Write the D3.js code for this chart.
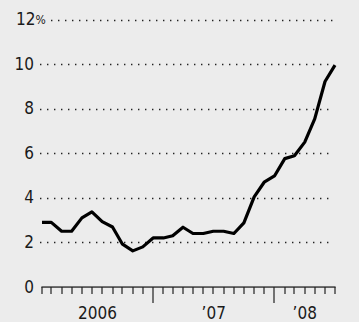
<!DOCTYPE html>
<html>
<head>
<meta charset="utf-8">
<script src="https://cdn.jsdelivr.net/npm/d3@7"></script>
<style>
  html, body { margin: 0; padding: 0; background: #ececec; }
  svg { display: block; }
  text { font-family: "Liberation Sans Narrow", "DejaVu Sans Condensed", "Liberation Sans", sans-serif; fill: #1a1a1a; }
</style>
</head>
<body>
<script>
// monthly readings, Feb 2006 - Jul 2008
var months = ["2006-02","2006-03","2006-04","2006-05","2006-06","2006-07","2006-08","2006-09","2006-10","2006-11","2006-12",
  "2007-01","2007-02","2007-03","2007-04","2007-05","2007-06","2007-07","2007-08","2007-09","2007-10","2007-11","2007-12",
  "2008-01","2008-02","2008-03","2008-04","2008-05","2008-06","2008-07"];
var values = [2.9, 2.9, 2.5, 2.5, 3.1, 3.37, 2.93, 2.69, 1.92, 1.62, 1.8,
  2.2, 2.2, 2.3, 2.68, 2.4, 2.4, 2.5, 2.5, 2.4, 2.88, 4.04, 4.7,
  4.98, 5.76, 5.89, 6.5, 7.54, 9.22, 9.95];
var yTicks = [0, 2, 4, 6, 8, 10, 12];
var yearStarts = ["2006-01","2007-01","2008-01"];
var yearLabels = ["2006", "\u201907", "\u201908"];

var W = 359, H = 322;
var parse = d3.timeParse("%Y-%m");
var data = months.map(function(m, i){ return {date: parse(m), v: values[i]}; });

var svg = d3.select('body').append('svg').attr('width', W).attr('height', H);

var x = d3.scaleTime().domain(d3.extent(data, function(d){ return d.date; })).range([42, 335]);
var y = d3.scaleLinear().domain([0, 12]).range([287, 19.5]);

// dotted gridlines
yTicks.filter(function(t){ return t > 0; }).forEach(function(t){
    var x0 = t == 12 ? 51 : 40;
    svg.append('line').attr('x1', x0).attr('x2', 334)
        .attr('y1', Math.round(y(t)) + 0.5).attr('y2', Math.round(y(t)) + 0.5)
        .attr('stroke', '#222').attr('stroke-width', 1.4)
        .attr('stroke-dasharray', '1.4,5.6');
});

// y labels
var yl = svg.append('g');
yTicks.forEach(function(t){
    var tx = yl.append('text').attr('x', 34).attr('y', y(t) + 5.5)
        .attr('font-size', 17).attr('text-anchor', t == 12 ? 'start' : 'end');
    if (t == 12) {
        tx.attr('x', 16).text('12');
        tx.append('tspan').attr('font-size', 12).attr('dy', -1).text('%');
    } else {
        tx.text(t);
    }
});

// x axis: baseline plus a tick every month, longer at each January
var y0 = Math.round(y(0));
svg.append('rect').attr('x', x(data[0].date) - 0.6).attr('y', y0 - 0.6)
    .attr('width', x(data[data.length-1].date) - x(data[0].date) + 1.2).attr('height', 1.3)
    .attr('fill', '#222');
svg.append('g').selectAll('rect').data(data).enter().append('rect')
    .attr('x', function(d){ return Math.round(x(d.date)) - 0.6; })
    .attr('width', 1.2)
    .attr('y', y0)
    .attr('height', function(d){ return d.date.getMonth() == 0 ? 16 : 7; })
    .attr('fill', '#222');

// year labels centred on visible part of each year
var dom = x.domain();
yearStarts.forEach(function(s, i){
    var a = parse(s), b = d3.timeYear.offset(a, 1);
    var lo = Math.max(x(a), x(dom[0])), hi = Math.min(x(b), x(dom[1]));
    svg.append('text').attr('x', (lo + hi) / 2).attr('y', 319)
        .attr('text-anchor', 'middle').attr('font-size', 17).text(yearLabels[i]);
});

// the line
var line = d3.line().x(function(d){ return x(d.date); }).y(function(d){ return y(d.v); });
svg.append('path').datum(data).attr('d', line)
    .attr('fill', 'none').attr('stroke', '#000').attr('stroke-width', 3.2)
    .attr('stroke-linejoin', 'round');
</script>
</body>
</html>
